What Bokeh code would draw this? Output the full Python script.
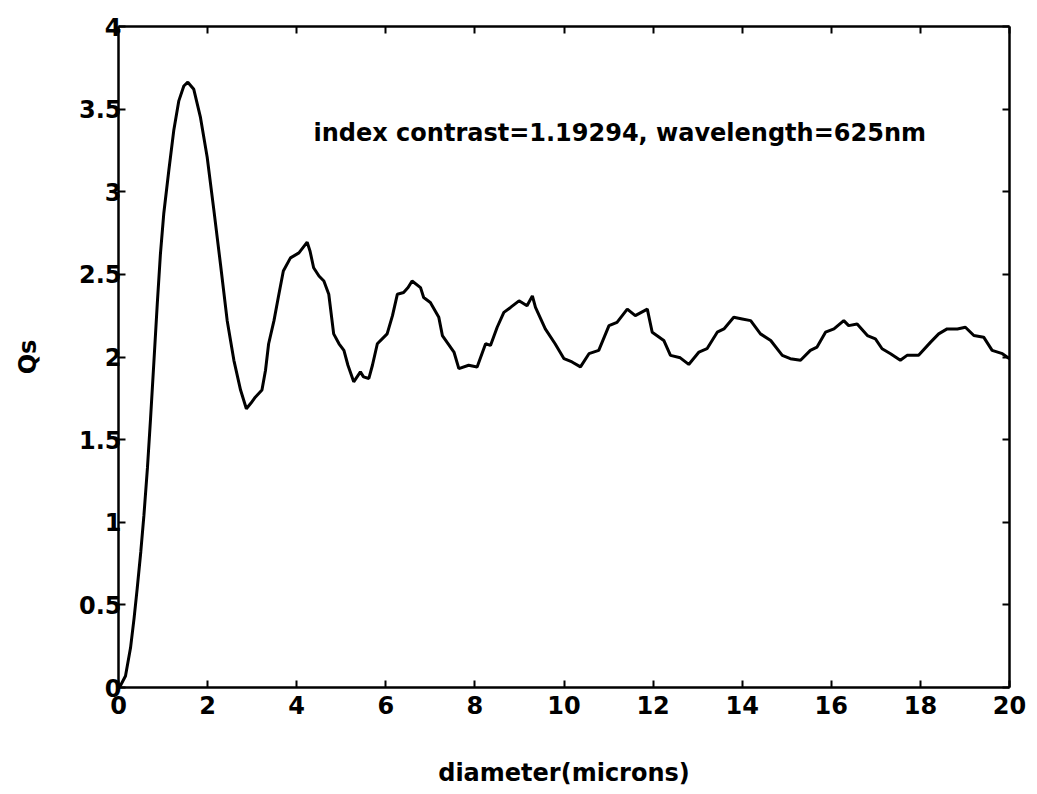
from bokeh.plotting import figure
from bokeh.models import Range1d, LinearAxis, FixedTicker, Label
from bokeh.embed import file_html
from bokeh.resources import INLINE

diameter = [0.0, 0.045, 0.157, 0.27, 0.35, 0.42, 0.50, 0.57, 0.65, 0.72, 0.79, 0.87,
            0.94, 1.017, 1.13, 1.24, 1.354, 1.466, 1.556, 1.69, 1.84, 1.99, 2.14, 2.29,
            2.44, 2.59, 2.74, 2.87, 2.97, 3.07, 3.22, 3.30, 3.37, 3.49, 3.6, 3.7,
            3.86, 4.05, 4.235, 4.3, 4.38, 4.50, 4.61, 4.72, 4.83, 4.95, 5.06, 5.15,
            5.28, 5.43, 5.5, 5.62, 5.7, 5.81, 6.03, 6.15, 6.26, 6.40, 6.50, 6.59,
            6.78, 6.85, 7.00, 7.19, 7.27, 7.40, 7.53, 7.64, 7.86, 8.05, 8.24, 8.35,
            8.5, 8.65, 8.8, 8.99, 9.17, 9.29, 9.36, 9.58, 9.8, 10.0, 10.18, 10.37,
            10.56, 10.78, 11.01, 11.19, 11.42, 11.60, 11.87, 11.98, 12.24, 12.39, 12.61, 12.80,
            13.03, 13.21, 13.44, 13.59, 13.81, 14.0, 14.19, 14.41, 14.64, 14.90, 15.08, 15.31,
            15.53, 15.68, 15.87, 16.06, 16.28, 16.39, 16.58, 16.81, 16.99, 17.14, 17.33, 17.55,
            17.70, 17.96, 18.23, 18.41, 18.60, 18.83, 19.01, 19.20, 19.42, 19.61, 19.84, 20.0]
qs = [0.0, 0.012, 0.07, 0.24, 0.42, 0.60, 0.82, 1.04, 1.33, 1.63, 1.95, 2.32,
      2.62, 2.87, 3.13, 3.37, 3.55, 3.64, 3.663, 3.62, 3.45, 3.21, 2.89, 2.56,
      2.22, 1.98, 1.80, 1.687, 1.72, 1.757, 1.80, 1.92, 2.08, 2.22, 2.38, 2.52,
      2.60, 2.63, 2.695, 2.64, 2.54, 2.49, 2.46, 2.38, 2.14, 2.08, 2.04, 1.95,
      1.85, 1.91, 1.88, 1.87, 1.95, 2.08, 2.14, 2.25, 2.38, 2.39, 2.42, 2.46,
      2.42, 2.36, 2.33, 2.24, 2.13, 2.08, 2.03, 1.93, 1.95, 1.94, 2.08, 2.07,
      2.18, 2.27, 2.30, 2.34, 2.31, 2.37, 2.30, 2.17, 2.08, 1.99, 1.97, 1.94,
      2.02, 2.04, 2.19, 2.21, 2.29, 2.25, 2.29, 2.15, 2.10, 2.01, 1.995, 1.955,
      2.03, 2.05, 2.15, 2.17, 2.24, 2.23, 2.22, 2.14, 2.10, 2.01, 1.99, 1.98,
      2.04, 2.06, 2.15, 2.17, 2.22, 2.19, 2.20, 2.13, 2.11, 2.05, 2.02, 1.98,
      2.01, 2.01, 2.09, 2.14, 2.17, 2.17, 2.18, 2.13, 2.12, 2.04, 2.02, 1.99]

x_ticks = [0, 2, 4, 6, 8, 10, 12, 14, 16, 18, 20]
x_tick_labels = ["0", "2", "4", "6", "8", "10", "12", "14", "16", "18", "20"]
y_ticks = [0, 0.5, 1, 1.5, 2, 2.5, 3, 3.5, 4]
y_tick_labels = ["0", "0.5", "1", "1.5", "2", "2.5", "3", "3.5", "4"]
x_label = "diameter(microns)"
y_label = "Qs"
note = "index contrast=1.19294, wavelength=625nm"

FONT = "DejaVu Sans"

p = figure(width=1037, height=794, output_backend="svg", toolbar_location=None,
           x_range=Range1d(0, 20), y_range=Range1d(0, 4),
           min_border_left=118, min_border_right=28, min_border_top=26, min_border_bottom=107,
           x_axis_location=None, y_axis_location=None)
p.outline_line_color = None
p.grid.visible = False
p.background_fill_color = "white"
p.border_fill_color = "white"

p.line(diameter, qs, line_color="black", line_width=3)

def style(ax, ticks, labels, show_labels):
    ax.ticker = FixedTicker(ticks=ticks)
    ax.major_label_overrides = {t: l for t, l in zip(ticks, labels)}
    ax.axis_line_color = "black"
    ax.axis_line_width = 2.5
    ax.major_tick_in = 7
    ax.major_tick_out = 0
    ax.major_tick_line_width = 2
    ax.major_tick_line_color = "black"
    ax.minor_tick_line_color = None
    ax.major_label_text_font = FONT
    ax.major_label_text_font_style = "bold"
    ax.major_label_text_font_size = "24px" if show_labels else "0px"
    ax.major_label_text_color = "black" if show_labels else None
    ax.axis_label_text_font = FONT
    ax.axis_label_text_font_style = "bold"
    ax.axis_label_text_font_size = "24px"
    ax.axis_label_text_color = "black"

xb = LinearAxis(axis_label=x_label)
style(xb, x_ticks, x_tick_labels, True)
xb.major_label_standoff = 8
xb.axis_label_standoff = 42
p.add_layout(xb, "below")

yl = LinearAxis(axis_label=y_label)
style(yl, y_ticks, y_tick_labels, True)
yl.major_label_standoff = -3
yl.axis_label_standoff = 34
p.add_layout(yl, "left")

xt = LinearAxis()
style(xt, x_ticks, x_tick_labels, False)
xt.major_label_standoff = 0
p.add_layout(xt, "above")

yr = LinearAxis()
style(yr, y_ticks, y_tick_labels, False)
yr.major_label_standoff = 0
p.add_layout(yr, "right")

p.add_layout(Label(x=195, y=555, x_units="screen", y_units="screen",
                   text=note, text_font=FONT, text_font_style="bold",
                   text_font_size="24px", text_color="black", text_baseline="middle"))

open("out.html", "w").write(file_html(p, INLINE))
